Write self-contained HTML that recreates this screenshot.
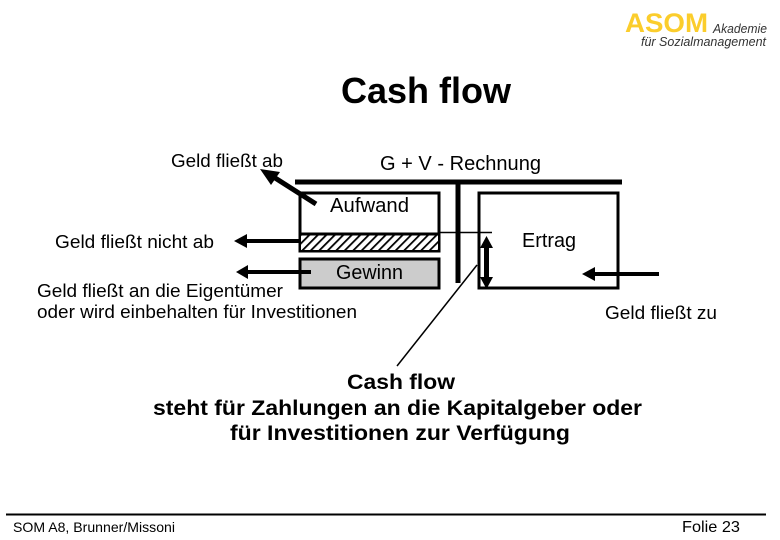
<!DOCTYPE html>
<html><head><meta charset="utf-8"><style>
html,body{margin:0;padding:0;background:#fff}
svg{display:block}
text{font-family:"Liberation Sans",sans-serif;fill:#000}
</style></head><body>
<svg width="780" height="540" viewBox="0 0 780 540" xmlns="http://www.w3.org/2000/svg">
<defs>
<pattern id="h" width="6" height="6" patternUnits="userSpaceOnUse" patternTransform="rotate(45)"><rect width="6" height="6" fill="#fff"/><rect width="1.800" height="6" fill="#000"/></pattern>
</defs>
<text x="625" y="32" font-size="27" font-weight="bold" style="fill:#fbcd2c" textLength="83" lengthAdjust="spacingAndGlyphs">ASOM</text>
<text x="713" y="33" font-size="12.500" font-style="italic" textLength="54" lengthAdjust="spacingAndGlyphs" style="fill:#333">Akademie</text>
<text x="641" y="46" font-size="13" font-style="italic" textLength="125" lengthAdjust="spacingAndGlyphs" style="fill:#333">für Sozialmanagement</text>

<text x="341" y="103" font-size="36" font-weight="bold" textLength="170" lengthAdjust="spacingAndGlyphs">Cash flow</text>
<text x="171" y="167" font-size="18" textLength="112" lengthAdjust="spacingAndGlyphs">Geld fließt ab</text>
<text x="380" y="170" font-size="20" textLength="161" lengthAdjust="spacingAndGlyphs">G + V - Rechnung</text>
<text x="522" y="247" font-size="20" textLength="54" lengthAdjust="spacingAndGlyphs">Ertrag</text>
<text x="55" y="248" font-size="18" textLength="159" lengthAdjust="spacingAndGlyphs">Geld fließt nicht ab</text>
<text x="37" y="297" font-size="18" textLength="246" lengthAdjust="spacingAndGlyphs">Geld fließt an die Eigentümer</text>
<text x="37" y="318" font-size="18" textLength="320" lengthAdjust="spacingAndGlyphs">oder wird einbehalten für Investitionen</text>
<text x="605" y="319" font-size="18" textLength="112" lengthAdjust="spacingAndGlyphs">Geld fließt zu</text>

<rect x="300" y="193" width="139" height="58" fill="#fff" stroke="#000" stroke-width="3"/>
<rect x="301" y="235" width="137" height="15" fill="url(#h)"/>
<line x1="299" y1="234" x2="439" y2="234" stroke="#000" stroke-width="3"/>
<text x="330" y="212" font-size="20" textLength="79" lengthAdjust="spacingAndGlyphs">Aufwand</text>
<rect x="300" y="259" width="139" height="29" fill="#ccc" stroke="#000" stroke-width="3"/>
<text x="336" y="279" font-size="20" textLength="67" lengthAdjust="spacingAndGlyphs">Gewinn</text>
<rect x="479" y="193" width="139" height="95" fill="none" stroke="#000" stroke-width="3"/>

<line x1="295" y1="182" x2="622" y2="182" stroke="#000" stroke-width="5"/>
<line x1="458" y1="182" x2="458" y2="283" stroke="#000" stroke-width="5"/>
<line x1="439" y1="232.500" x2="492" y2="232.500" stroke="#000" stroke-width="1.500"/>

<line x1="316" y1="204" x2="272" y2="176" stroke="#000" stroke-width="5"/>
<polygon points="260,169 280,172 271,185" fill="#000"/>
<line x1="299" y1="241" x2="245" y2="241" stroke="#000" stroke-width="4"/>
<polygon points="234,241 247,234 247,248" fill="#000"/>
<line x1="311" y1="272" x2="245" y2="272" stroke="#000" stroke-width="4"/>
<polygon points="236,272 248,265 248,279" fill="#000"/>
<line x1="659" y1="274" x2="590" y2="274" stroke="#000" stroke-width="4"/>
<polygon points="582,274 595,267 595,281" fill="#000"/>
<line x1="486.500" y1="245" x2="486.500" y2="280" stroke="#000" stroke-width="5"/>
<polygon points="486.500,236 480,248 493,248" fill="#000"/>
<polygon points="486.500,289 480,277 493,277" fill="#000"/>
<line x1="397" y1="366" x2="477" y2="265" stroke="#000" stroke-width="1.500"/>

<text x="347" y="389" font-size="21" font-weight="bold" textLength="108" lengthAdjust="spacingAndGlyphs">Cash flow</text>
<text x="153" y="415" font-size="21" font-weight="bold" textLength="489" lengthAdjust="spacingAndGlyphs">steht für Zahlungen an die Kapitalgeber oder</text>
<text x="230" y="440" font-size="21" font-weight="bold" textLength="340" lengthAdjust="spacingAndGlyphs">für Investitionen zur Verfügung</text>

<line x1="6" y1="514.500" x2="766" y2="514.500" stroke="#000" stroke-width="2"/>
<text x="13" y="532" font-size="14" textLength="162" lengthAdjust="spacingAndGlyphs">SOM A8, Brunner/Missoni</text>
<text x="682" y="532" font-size="16" textLength="58" lengthAdjust="spacingAndGlyphs">Folie 23</text>
</svg>
</body></html>
